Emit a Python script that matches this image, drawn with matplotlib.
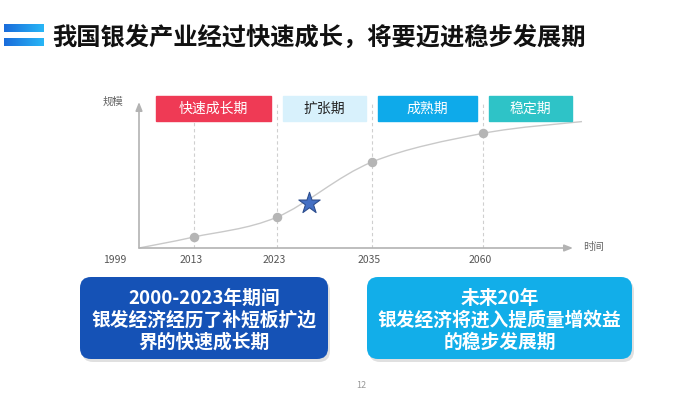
import matplotlib
matplotlib.use('Agg')
import matplotlib.pyplot as plt
import matplotlib.transforms as mtransforms
from matplotlib.colors import LinearSegmentedColormap
from matplotlib.patches import FancyBboxPatch, Rectangle, PathPatch
from matplotlib.path import Path
import numpy as np

plt.rcParams['font.family'] = ['Noto Sans CJK SC', 'DejaVu Sans']

title = '我国银发产业经过快速成长，将要迈进稳步发展期'
years = [1999, 2013, 2023, 2035, 2060, 2080]
scale = [0, 7.5, 21, 58.5, 78, 86]
marked_years = [2013, 2023, 2035, 2060]
star_year, star_value = 2027, 30.5
phases = ['快速成长期', '扩张期', '成熟期', '稳定期']
phase_bounds = [1999, 2023, 2035, 2060, 2078]
phase_colors = ['#EF3A55', '#D8F1FC', '#0EAAEA', '#2EC3C7']
phase_text = ['white', '#222222', 'white', 'white']
notes = [['2000-2023年期间', '银发经济经历了补短板扩边', '界的快速成长期'],
         ['未来20年', '银发经济将进入提质量增效益', '的稳步发展期']]
note_colors = ['#1552B6', '#12AEE9']

# the time axis is not even: tick year -> pixels from the origin
axis_years = [1999, 2013, 2023, 2035, 2060, 2080]
axis_px = [0, 55, 138, 233, 344, 443]

W, H = 700, 398
fig = plt.figure(figsize=(7, 3.98), dpi=100)
ox, oy = 139, 248

ax = fig.add_axes([ox / W, 1 - oy / H, 443 / W, 152 / H])
fwd = lambda x: np.interp(x, axis_years, axis_px)
inv = lambda p: np.interp(p, axis_px, axis_years)
ax.set_xscale('function', functions=(fwd, inv))
ax.set_xlim(1999, 2080)
ax.set_ylim(0, 152 / 147 * 100)
ax.axis('off')

arrow = dict(arrowstyle='-|>,head_length=0.5,head_width=0.2', color='#b3b3b3',
             lw=1.2, shrinkA=0, shrinkB=0)
ax.annotate('', xy=(434 / 443, 0), xytext=(0, 0), xycoords='axes fraction',
            arrowprops=arrow, annotation_clip=False)
ax.annotate('', xy=(0, 146 / 152), xytext=(0, 0), xycoords='axes fraction',
            arrowprops=arrow, annotation_clip=False)

ax.vlines(marked_years, 0, 99, colors='#cfcfcf', linestyles=(0, (3, 2.5)), lw=0.8)

# smooth growth curve through the read points (Catmull-Rom as cubic Bezier, in pixels)
pts = ax.transData.transform(np.column_stack([years, scale]))
ext = np.vstack([pts[0], pts, pts[-1]])
verts, codes = [pts[0]], [Path.MOVETO]
for i in range(1, len(ext) - 2):
    p0, p1, p2, p3 = ext[i - 1], ext[i], ext[i + 1], ext[i + 2]
    verts += [p1 + (p2 - p0) / 6, p2 - (p3 - p1) / 6, p2]
    codes += [Path.CURVE4] * 3
ax.add_patch(PathPatch(Path(verts, codes), fill=False, edgecolor='#c9c9c9', lw=1.0,
                       transform=mtransforms.IdentityTransform(), clip_on=False))

dot_vals = [scale[years.index(y)] for y in marked_years]
ax.scatter(marked_years, dot_vals, s=34, color='#b5b5b5', zorder=3, clip_on=False)
ax.scatter([star_year], [star_value], marker='*', s=260, color='#4470C4',
           edgecolor='#2D4E8E', linewidth=0.8, zorder=4)

tick_tr = mtransforms.offset_copy(ax.get_xaxis_transform(), fig, x=-3, y=-12, units='dots')
for y in marked_years:
    ax.text(y, 0, str(y), transform=tick_tr, ha='center', va='center', fontsize=7.5, color='#555555')
first_tr = mtransforms.offset_copy(ax.get_xaxis_transform(), fig, x=-24, y=-12, units='dots')
ax.text(1999, 0, '1999', transform=first_tr, ha='center', va='center', fontsize=7.5, color='#555555')

# overlay in pixel coordinates for the slide furniture
ov = fig.add_axes([0, 0, 1, 1])
grad = LinearSegmentedColormap.from_list('g', ['#1a6cdb', '#28b6f6'])
for top in (24, 38):
    ov.imshow(np.linspace(0, 1, 50)[None, :], cmap=grad, extent=(4, 44, top + 8, top), aspect='auto')
ov.set_xlim(0, W)
ov.set_ylim(H, 0)
ov.axis('off')

ov.text(52, 38, title, fontsize=17.5, fontweight='bold', va='center', ha='left', color='#111111')
ov.text(113, 102, '规模', fontsize=7.5, color='#666666', ha='center', va='center')
ov.text(593, 247, '时间', fontsize=7.5, color='#666666', ha='center', va='center')

bx = [ox + fwd(b) for b in phase_bounds]
for i, name in enumerate(phases):
    x0 = bx[i] + (17 if i == 0 else 6)
    x1 = bx[i + 1] - (6 if i < len(phases) - 1 else 0)
    ov.add_patch(Rectangle((x0, 96), x1 - x0, 25, color=phase_colors[i], zorder=3))
    ov.text((x0 + x1) / 2, 108.5, name, fontsize=10, color=phase_text[i],
            ha='center', va='center', zorder=4)

for (x0, x1), lines, c in zip([(80, 328), (367, 632)], notes, note_colors):
    ov.add_patch(FancyBboxPatch((x0 + 2, 280), x1 - x0, 82, boxstyle='round,pad=0,rounding_size=11',
                                color='#000000', alpha=0.12, lw=0))
    ov.add_patch(FancyBboxPatch((x0, 277), x1 - x0, 82, boxstyle='round,pad=0,rounding_size=11',
                                color=c, lw=0))
    for k, line in enumerate(lines):
        ov.text((x0 + x1) / 2, 298 + 22 * k, line, fontsize=13.5, fontweight='bold',
                color='white', ha='center', va='center')

ov.text(361, 385, '12', fontsize=6.5, color='#999999', ha='center', va='center')

fig.savefig('out.png', dpi=100)
